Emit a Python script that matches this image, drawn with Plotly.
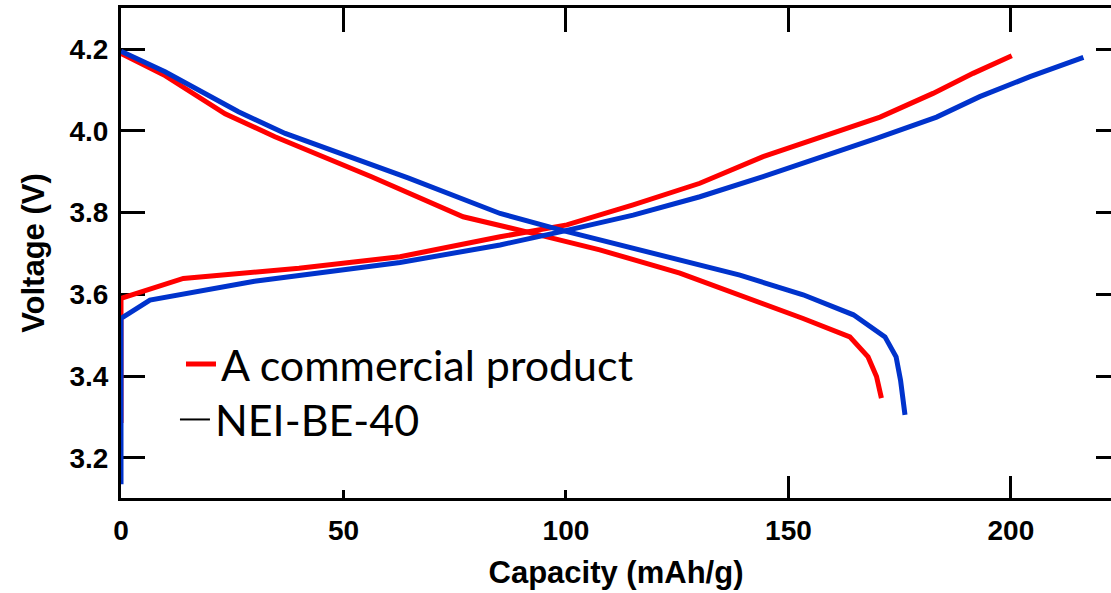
import plotly.graph_objects as go

# ---- data (capacity mAh/g, voltage V) ----
commercial_charge_cap = [0, 0, 14, 40, 62.7, 85.2, 100.2, 115.1, 130.1, 144.3, 170.6, 182.5, 191.5, 200.2]
commercial_charge_v = [3.285, 3.59, 3.639, 3.664, 3.692, 3.741, 3.770, 3.819, 3.872, 3.937, 4.034, 4.092, 4.141, 4.184]

commercial_dis_cap = [0, 10, 23.4, 34.6, 56.3, 62.7, 76.9, 91.2, 107.6, 125.6, 139.1, 153.3, 163.8, 167.9, 169.8, 170.9]
commercial_dis_v = [4.19, 4.135, 4.042, 3.986, 3.888, 3.857, 3.790, 3.753, 3.709, 3.652, 3.599, 3.541, 3.496, 3.447, 3.399, 3.346]

nei_charge_cap = [0, 0, 6.5, 30, 62.7, 85.2, 98.7, 115.1, 130.1, 144.3, 169.8, 183.3, 193, 204.3, 216.3]
nei_charge_v = [3.135, 3.541, 3.586, 3.632, 3.678, 3.721, 3.753, 3.794, 3.839, 3.888, 3.982, 4.034, 4.084, 4.133, 4.180]

nei_dis_cap = [0, 9.9, 26.4, 36.9, 64.5, 85.2, 98.7, 115, 130.1, 139.1, 153.3, 164.6, 171.7, 174.2, 175.2, 176.2]
nei_dis_v = [4.195, 4.145, 4.047, 3.994, 3.885, 3.798, 3.758, 3.713, 3.672, 3.647, 3.599, 3.550, 3.496, 3.447, 3.390, 3.305]

x_ticks = [0, 50, 100, 150, 200]
y_ticks = [3.2, 3.4, 3.6, 3.8, 4.0, 4.2]
x_range = [0, 222.5]
y_range = [3.1016, 4.301]

RED = "#ff0000"
BLUE = "#0033cc"

fig = go.Figure()
fig.add_trace(go.Scatter(x=commercial_charge_cap, y=commercial_charge_v, mode="lines",
                         line=dict(color=RED, width=5), name="A commercial product",
                         legendgroup="g1", showlegend=True, legend="legend"))
fig.add_trace(go.Scatter(x=commercial_dis_cap, y=commercial_dis_v, mode="lines",
                         line=dict(color=RED, width=5), name="A commercial product",
                         legendgroup="g1", showlegend=False))
fig.add_trace(go.Scatter(x=nei_charge_cap, y=nei_charge_v, mode="lines", xaxis="x2", yaxis="y2",
                         line=dict(color=BLUE, width=5), name="NEI-BE-40",
                         legendgroup="g2", showlegend=False))
fig.add_trace(go.Scatter(x=nei_dis_cap, y=nei_dis_v, mode="lines", xaxis="x2", yaxis="y2",
                         line=dict(color=BLUE, width=5), name="NEI-BE-40",
                         legendgroup="g2", showlegend=False))
# legend entry as in the original (thin black dash)
fig.add_trace(go.Scatter(x=[None], y=[None], mode="lines", xaxis="x3",
                         line=dict(color="black", width=2), name="NEI-BE-40",
                         legendgroup="g2", showlegend=True, legend="legend2"))

tick_font = dict(family="Liberation Sans, Arial, sans-serif", size=28, color="black", weight="bold")
title_font = dict(family="Liberation Sans, Arial, sans-serif", size=31, color="black", weight="bold")
legend_font = dict(family="Lato, Carlito, sans-serif", size=43, color="black")

fig.update_layout(
    width=1111, height=593,
    margin=dict(l=121, r=0, t=8, b=95),
    paper_bgcolor="white", plot_bgcolor="white",
    showlegend=True,
    legend=dict(x=0.0606, y=0.344, xanchor="left", yanchor="top", font=legend_font,
                bgcolor="rgba(0,0,0,0)", itemsizing="trace"),
    legend2=dict(x=0.0545, y=0.2306, xanchor="left", yanchor="top", font=legend_font,
                 bgcolor="rgba(0,0,0,0)", itemsizing="trace"),
    xaxis=dict(range=x_range, tickvals=x_ticks, ticks="inside", ticklen=8, tickwidth=3,
               tickcolor="black", showline=True, linecolor="black", linewidth=3,
               showgrid=False, zeroline=False, tickfont=tick_font, layer="below traces",
               automargin=False,
               title=dict(text="Capacity (mAh/g)", font=title_font, standoff=17),
               ticklabelstandoff=5),
    xaxis2=dict(range=x_range, overlaying="x", side="top", anchor="y", tickvals=x_ticks,
                ticks="inside", ticklen=24, tickwidth=3, tickcolor="black",
                showline=True, linecolor="black", linewidth=3, showgrid=False,
                zeroline=False, showticklabels=False, automargin=False),
    xaxis3=dict(range=x_range, overlaying="x", side="bottom", anchor="y", tickvals=[150, 200],
                ticks="inside", ticklen=22, tickwidth=3, tickcolor="black",
                showline=False, showgrid=False, zeroline=False, showticklabels=False,
                automargin=False),
    yaxis=dict(range=y_range, tickvals=y_ticks, tickformat=".1f", ticks="inside", ticklen=24,
               tickwidth=3, tickcolor="black", showline=True, linecolor="black", linewidth=3,
               showgrid=False, zeroline=False, tickfont=tick_font, layer="below traces",
               automargin=False,
               title=dict(text="Voltage (V)", font=title_font, standoff=16),
               ticklabelstandoff=4),
    yaxis2=dict(range=y_range, overlaying="y", side="right", anchor="x", tickvals=y_ticks,
                ticks="inside", ticklen=15, tickwidth=3, tickcolor="black",
                showline=False, showgrid=False, zeroline=False, showticklabels=False,
                automargin=False),
)

fig.write_html("out.html", config={"displayModeBar": False},
               post_script="document.body.style.margin='0';document.body.style.overflow='hidden';")
